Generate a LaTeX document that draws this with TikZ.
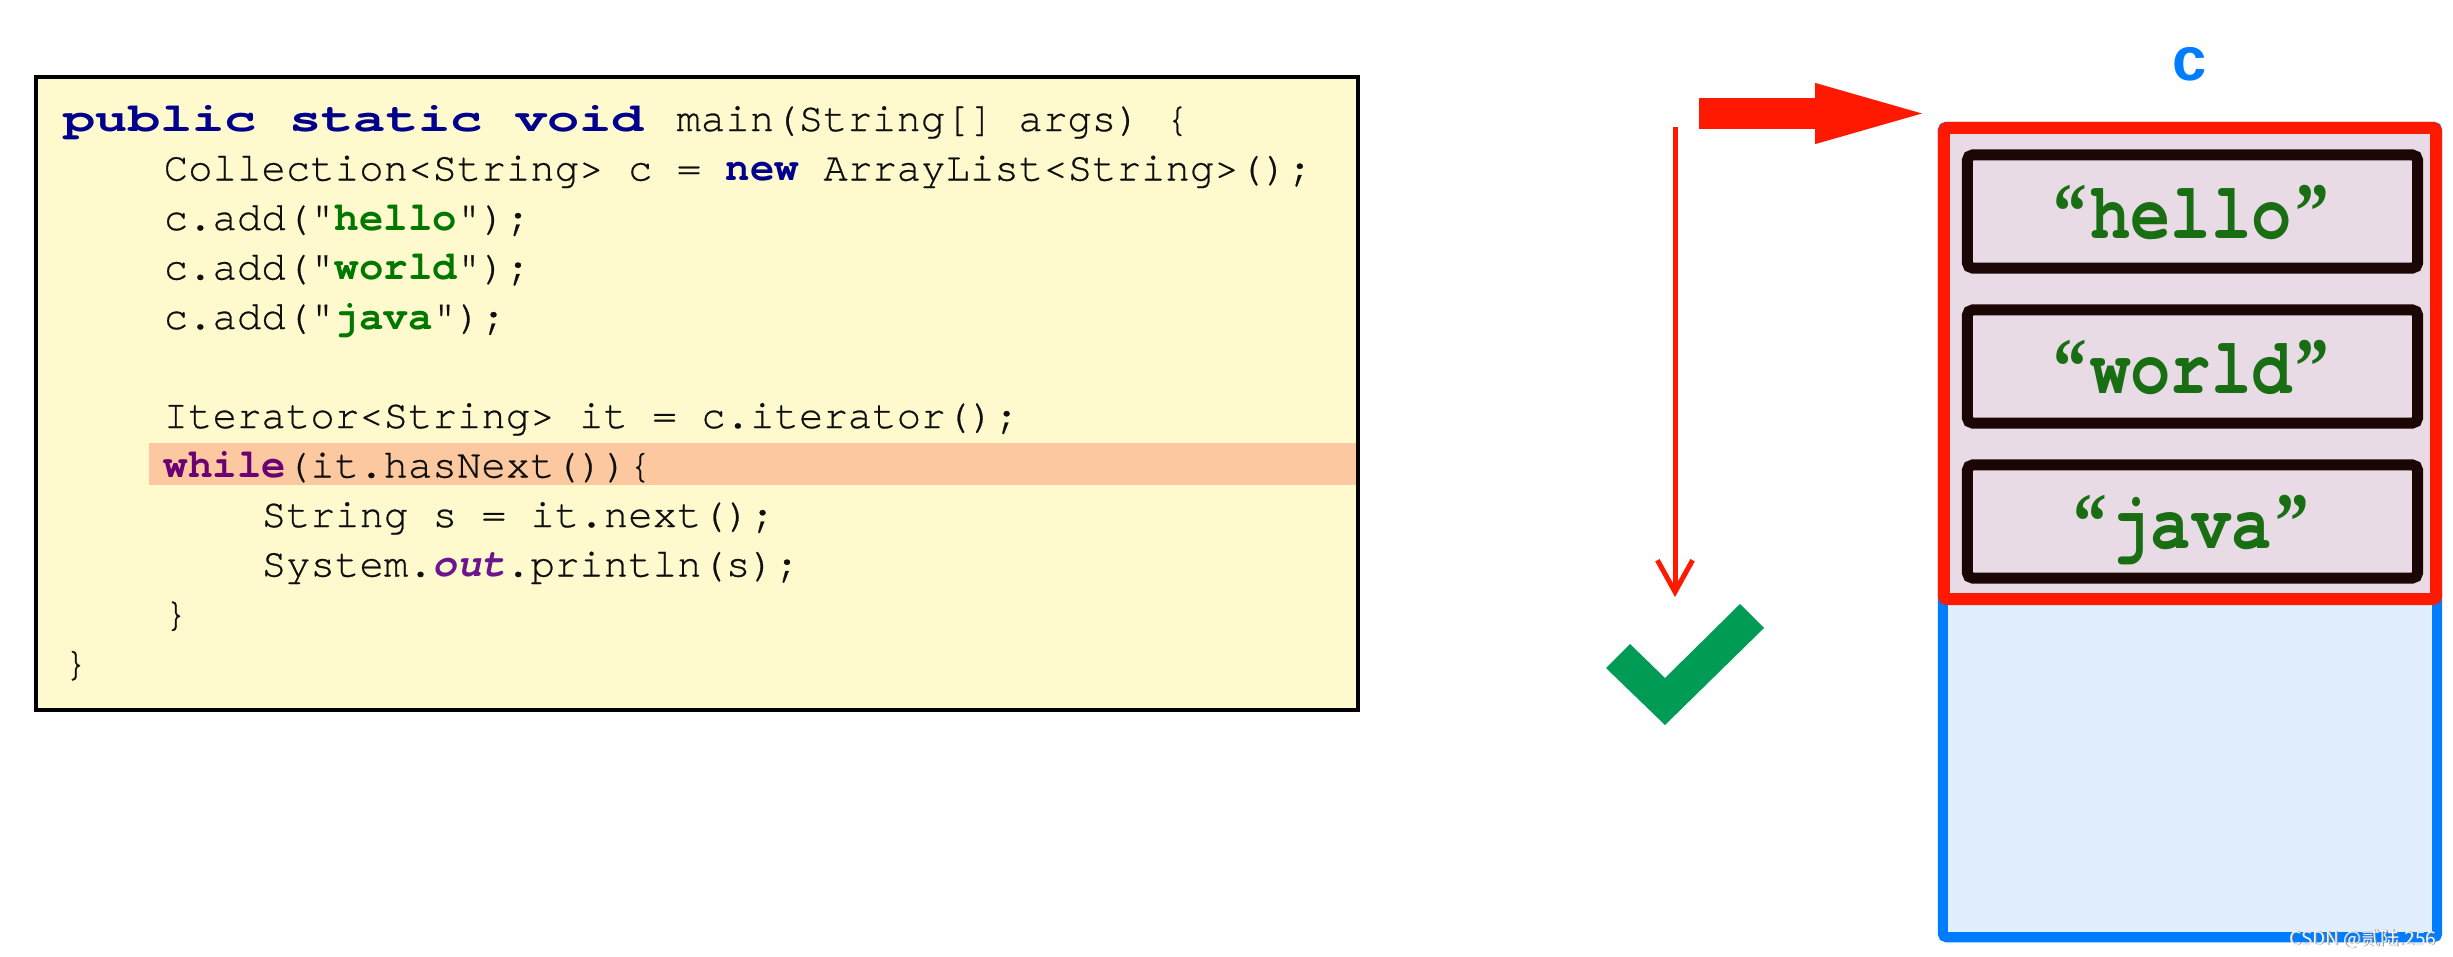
\documentclass[tikz,border=0pt]{standalone}
\usepackage{fontspec}
\usepackage{graphicx}
\usetikzlibrary{arrows.meta}
\newfontfamily\codefont{texgyrecursor}[Extension=.otf, UprightFont=*-regular, BoldFont=*-bold, ItalicFont=*-italic, BoldItalicFont=*-bolditalic, UprightFeatures={FakeBold=0.6}]
\newfontfamily\quotefont{Liberation Serif}
\newfontfamily\labelfont{Liberation Sans}
\newfontfamily\cjkfont{Noto Sans CJK SC}
\definecolor{codeyellow}{RGB}{255,250,206}
\definecolor{hlpeach}{RGB}{252,200,160}
\definecolor{kwblue}{RGB}{0,0,140}
\definecolor{kwpurple}{RGB}{105,0,115}
\definecolor{outpurple}{RGB}{110,20,140}
\definecolor{strgreen}{RGB}{0,120,0}
\definecolor{boxgreen}{RGB}{25,110,20}
\definecolor{codeblack}{RGB}{15,15,15}
\definecolor{cblue}{RGB}{0,125,255}
\definecolor{redc}{RGB}{255,25,0}
\definecolor{lav}{RGB}{232,219,229}
\definecolor{lightblue}{RGB}{225,238,252}
\definecolor{boxdark}{RGB}{28,5,5}
\definecolor{chk}{RGB}{0,155,85}
\newcommand\kwd[1]{\textcolor{kwblue}{\bfseries #1}}
\newcommand\strl[1]{\textcolor{strgreen}{\bfseries #1}}
\newcommand\qopen{\makebox[0.6em][c]{\quotefont\bfseries “}}
\newcommand\qclose{\makebox[0.6em][c]{\quotefont\bfseries ”}}
\begin{document}
\begin{tikzpicture}[x=0.01cm,y=-0.01cm,
  codeline/.style={anchor=base west, inner sep=0pt, text=codeblack,
    font=\codefont\fontsize{11.58}{14}\selectfont},
  codebox/.style={draw=black, line width=1.14pt, fill=codeyellow, inner sep=0pt},
  hlband/.style={fill=hlpeach, inner sep=0pt},
  elembox/.style={draw=boxdark, line width=3.13pt, fill=lav, rounded corners=1.5pt,
    minimum width=4.50cm, minimum height=1.13cm, inner sep=0pt},
  valtext/.style={anchor=base, inner sep=0pt, text=boxgreen,
    font=\codefont\bfseries\fontsize{22.76}{26}\selectfont},
]
\useasboundingbox (0,0) rectangle (2453,957);
\fill[white] (0,0) rectangle (2453,957);

% code box
\node[codebox, minimum width=13.22cm, minimum height=6.33cm] (code) at (697,393.5) {};
\node[hlband, minimum width=12.07cm, minimum height=0.42cm] (hl) at (752.5,464) {};

\node[codeline] (l0) at (63,131) {\scalebox{1.32}[1]{\kwd{public static void }}main(String[] args) \{};
\node[codeline] (l1) at (163,180.5) {Collection<String> c = \kwd{new} ArrayList<String>();};
\node[codeline] (l2) at (163,230) {c.add("\strl{hello}");};
\node[codeline] (l3) at (163,279.5) {c.add("\strl{world}");};
\node[codeline] (l4) at (163,329) {c.add("\strl{java}");};
\node[codeline] (l6) at (163,428) {Iterator<String> it = c.iterator();};
\node[codeline] (l7) at (163,477.5) {\textcolor{kwpurple}{\bfseries while}(it.hasNext())\{};
\node[codeline] (l8) at (261,527) {String s = it.next();};
\node[codeline] (l9) at (261,576.5) {System.\textcolor{outpurple}{\bfseries\itshape out}.println(s);};
\node[codeline] (l10) at (163,626) {\}};
\node[codeline] (l11) at (63,675.5) {\}};

% collection container
\node[draw=cblue, line width=2.85pt, fill=lightblue, minimum width=4.94cm, minimum height=8.10cm,
  inner sep=0pt, rounded corners=1pt] (coll) at (2190,532) {};
\node[draw=redc, line width=3.41pt, fill=lav, minimum width=4.92cm, minimum height=4.71cm,
  inner sep=0pt, rounded corners=1pt] (used) at (2190,363.5) {};
\node[elembox] (e1) at (2192.5,211.5) {};
\node[elembox] (e2) at (2192.5,366.5) {};
\node[elembox] (e3) at (2192.5,521.5) {};
\node[valtext] (t1) at (2191,238) {\scalebox{0.84}[1]{\qopen hello\qclose}};
\node[valtext] (t2) at (2191,393) {\scalebox{0.84}[1]{\qopen world\qclose}};
\node[valtext] (t3) at (2191,548) {\scalebox{0.84}[1]{\qopen java\qclose}};
\node[anchor=base, inner sep=0pt, text=cblue, font=\labelfont\bfseries\fontsize{17.5}{20}\selectfont] (clabel) at (2190,80) {c};

% pointer arrow
\coordinate (ptrtail) at (1699,113.5);
\coordinate (ptrtip) at (1922,113.5);
\draw[redc, line width=8.82pt, -{Triangle[length=30.4pt,width=17.4pt,line width=0pt]}] (ptrtail) -- (ptrtip);

% check mark
\fill[chk] (1606,668) -- (1630,644) -- (1665,678) -- (1740,604) -- (1764,628) -- (1665,725) -- cycle;
\coordinate (chktop) at (1675,597);
\coordinate (loopstart) at (1675,127);
\draw[redc, line width=1.42pt, -{Straight Barb[length=9pt,width=10pt]}] (loopstart) -- (chktop);

% watermark
\node[anchor=base east, inner sep=0pt, text=black!45, font=\cjkfont\fontsize{5.4}{6}\selectfont] (wm0) at (2437.6,945.6) {CSDN @贰陆.256};
\node[anchor=base east, inner sep=0pt, text=white!92!gray, font=\cjkfont\fontsize{5.4}{6}\selectfont] (wm) at (2437,945) {CSDN @贰陆.256};
\end{tikzpicture}
\end{document}
